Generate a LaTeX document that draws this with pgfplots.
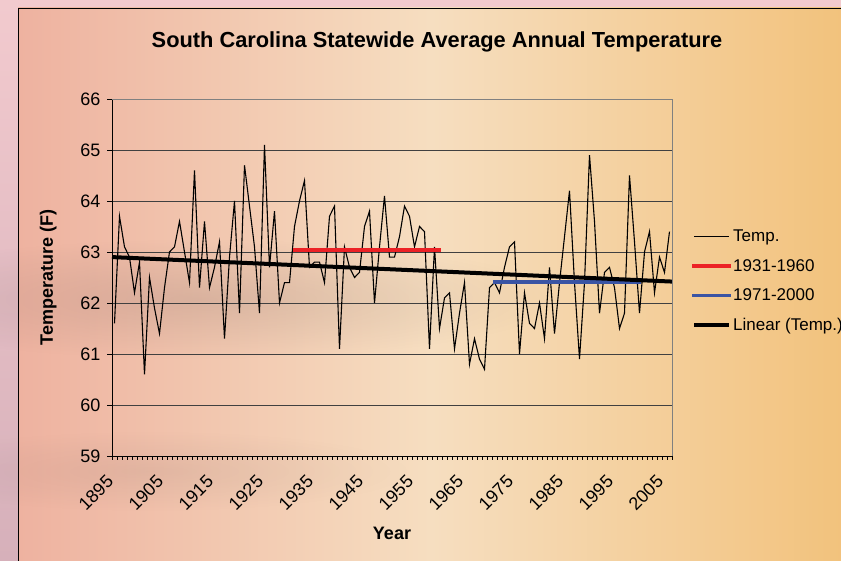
\documentclass[border=0pt]{standalone}
\usepackage{pgfplots}
\pgfplotsset{compat=1.18}
\usetikzlibrary{fadings}
\usepackage{fontspec}
\setmainfont{Liberation Sans}
\definecolor{outT}{RGB}{242,202,206}
\definecolor{outB}{RGB}{214,176,186}
\definecolor{bgL}{RGB}{238,178,160}
\definecolor{bgM}{RGB}{246,222,192}
\definecolor{bgR}{RGB}{242,194,124}
\definecolor{cloud}{RGB}{120,100,95}
\definecolor{redline}{RGB}{236,34,38}
\definecolor{blueline}{RGB}{58,84,164}
\tikzfading[name=myfade, inner color=transparent!0, outer color=transparent!100]
\pgfplotstableread{
year temp
1895 61.6
1896 63.7
1897 63.1
1898 62.9
1899 62.2
1900 62.8
1901 60.6
1902 62.5
1903 61.9
1904 61.4
1905 62.3
1906 63.0
1907 63.1
1908 63.6
1909 63.0
1910 62.4
1911 64.6
1912 62.3
1913 63.6
1914 62.3
1915 62.7
1916 63.2
1917 61.3
1918 62.9
1919 64.0
1920 61.8
1921 64.7
1922 63.9
1923 63.1
1924 61.8
1925 65.1
1926 62.7
1927 63.8
1928 62.0
1929 62.4
1930 62.4
1931 63.5
1932 64.0
1933 64.4
1934 62.7
1935 62.8
1936 62.8
1937 62.4
1938 63.7
1939 63.9
1940 61.1
1941 63.1
1942 62.7
1943 62.5
1944 62.6
1945 63.5
1946 63.8
1947 62.0
1948 63.1
1949 64.1
1950 62.9
1951 62.9
1952 63.3
1953 63.9
1954 63.7
1955 63.1
1956 63.5
1957 63.4
1958 61.1
1959 63.1
1960 61.5
1961 62.1
1962 62.2
1963 61.1
1964 61.8
1965 62.4
1966 60.8
1967 61.3
1968 60.9
1969 60.7
1970 62.3
1971 62.4
1972 62.2
1973 62.7
1974 63.1
1975 63.2
1976 61.0
1977 62.2
1978 61.6
1979 61.5
1980 62.0
1981 61.3
1982 62.7
1983 61.4
1984 62.4
1985 63.3
1986 64.2
1987 62.4
1988 60.9
1989 62.4
1990 64.9
1991 63.6
1992 61.8
1993 62.6
1994 62.7
1995 62.3
1996 61.5
1997 61.8
1998 64.5
1999 63.2
2000 61.8
2001 63.0
2002 63.4
2003 62.2
2004 62.9
2005 62.6
2006 63.4
}\temps
\begin{document}
\begin{tikzpicture}[x=1pt,y=1pt]
\shade[top color=outT, bottom color=outB] (0,0) rectangle (841,561);
\shade[left color=bgL, right color=bgR, middle color=bgM] (18,0) rectangle (845,553);
\fill[cloud, opacity=0.2, path fading=myfade] (200,262) ellipse (360 and 60);
\fill[cloud, opacity=0.12, path fading=myfade] (150,90) ellipse (260 and 40);
\draw[black, line width=0.8pt] (18,-2) -- (18,553) -- (845,553);
\node[font=\bfseries\fontsize{21.8}{26}\selectfont] at (437,519) {South Carolina Statewide Average Annual Temperature};
\begin{axis}[
  at={(112pt,105pt)}, anchor=south west,
  scale only axis, width=560pt, height=357pt,
  xmin=1894.5, xmax=2006.5, ymin=59, ymax=66,
  axis x line*=bottom, axis y line*=left,
  axis line style={black, line width=0.8pt},
  xtick={1895,1905,...,2005},
  minor xtick={1894.5,1895.5,...,2006.5},
  major x tick style={draw=none},
  minor tick length=4pt,
  ytick={59,...,66},
  major tick length=5pt,
  tick align=outside,
  xtick pos=bottom, ytick pos=left,
  tick style={black, line width=0.6pt},
  xticklabel style={yshift=-15pt, xshift=-2pt, rotate=45, anchor=east, font=\fontsize{18}{20}\selectfont},
  yticklabel style={xshift=-3pt, font=\fontsize{18}{20}\selectfont},
  /pgf/number format/assume math mode=true,
  xticklabel={\pgfmathprintnumber[1000 sep={},fixed]{\tick}},
  ymajorgrids, major grid style={black!75, line width=0.7pt},
  xlabel={Year}, ylabel={Temperature (F)},
  xlabel style={font=\bfseries\fontsize{18}{20}\selectfont, at={(axis description cs:0.5,-0.218)}, anchor=center},
  ylabel style={font=\bfseries\fontsize{18}{20}\selectfont, at={(axis description cs:-0.114,0.5)}, anchor=center},
  legend style={at={(rel axis cs:1,0.5)}, anchor=west, xshift=17pt, yshift=-3.5pt, draw=none, fill=none,
    font=\fontsize{17}{20}\selectfont, row sep=12pt, legend cell align=left},
  legend image code/.code={\draw[#1] (0pt,0pt) -- (35pt,0pt);},
  clip=false,
]
\addplot[black, line width=1.1pt] table[x=year, y=temp] {\temps};
\addlegendentry{Temp.}
\addplot[redline, line width=3.5pt, line cap=rect] coordinates {(1931,63.04) (1960,63.04)};
\addlegendentry{1931-1960}
\addplot[blueline, line width=3.5pt, line cap=rect] coordinates {(1971,62.41) (2000,62.41)};
\addlegendentry{1971-2000}
\addplot[black, line width=4pt] coordinates {(1894.5,62.90) (2006.5,62.42)};
\addlegendentry{Linear (Temp.)}
\draw[gray, line width=0.8pt] (rel axis cs:1,0) -- (rel axis cs:1,1);
\draw[gray, line width=0.8pt] (rel axis cs:0,1) -- (rel axis cs:1,1);
\end{axis}
\pgfresetboundingbox
\path[use as bounding box] (0,0) rectangle (841,561);
\end{tikzpicture}
\end{document}
